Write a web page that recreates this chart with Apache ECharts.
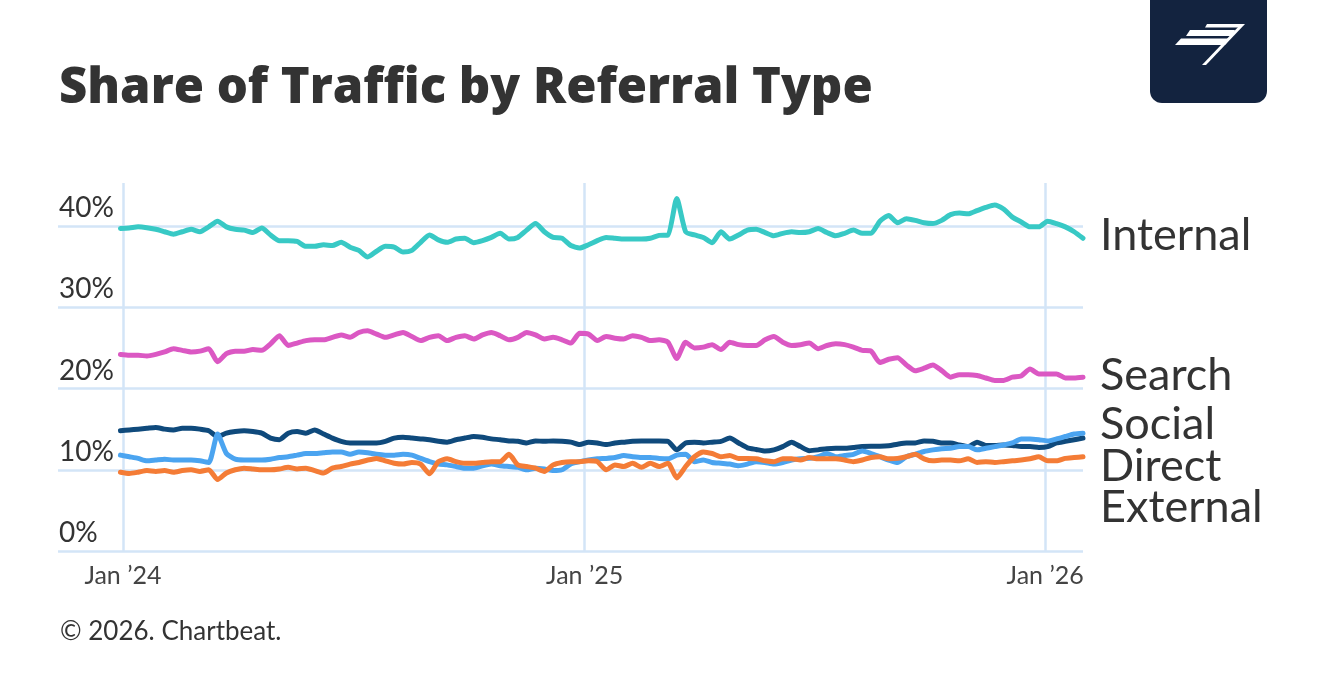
<!DOCTYPE html>
<html>
<head>
<meta charset="utf-8">
<script src="https://cdn.jsdelivr.net/npm/echarts@6/dist/echarts.min.js"></script>
<style>
html,body{margin:0;padding:0;background:#fff;}
#c{width:1318px;height:698px;}
</style>
</head>
<body>
<div id="c"></div>
<script>
// Weekly observations (days since 2024-01-01), first week start offset
const firstDay = -2;
const weekCount = 110;

const internal = [39.7,39.75,39.9,39.8,39.6,39.3,39.0,39.3,39.6,39.3,39.9,40.6,39.9,39.6,39.5,39.2,39.75,38.9,38.2,38.2,38.1,37.5,37.5,37.7,37.6,38.0,37.4,37.0,36.2,36.9,37.5,37.4,36.8,37.0,38.0,38.9,38.3,
38.0,38.4,38.5,37.95,38.2,38.6,39.1,38.4,38.6,39.5,40.3,39.3,38.6,38.5,37.6,37.3,37.7,38.2,38.6,38.5,38.4,38.4,38.4,38.5,38.85,38.9,43.4,39.3,38.9,38.6,37.95,39.3,38.4,38.9,39.5,39.6,
39.2,38.8,39.1,39.3,39.2,39.3,39.7,39.2,38.8,39.1,39.5,39.1,39.1,40.6,41.3,40.4,40.9,40.7,40.4,40.3,40.7,41.4,41.6,41.5,41.9,42.3,42.6,42.1,41.1,40.5,39.9,39.9,40.6,40.3,39.9,39.3,38.5];

const search = [24.2,24.1,24.1,24.0,24.2,24.5,24.9,24.7,24.5,24.6,24.9,23.3,24.3,24.6,24.6,24.8,24.7,25.5,26.5,25.3,25.6,25.9,26.0,26.0,26.3,26.6,26.3,26.9,27.1,26.7,26.3,26.6,26.9,26.4,25.9,26.3,26.5,
25.9,26.3,26.5,26.1,26.6,26.9,26.5,26.0,26.3,26.9,26.6,26.1,26.3,26.0,25.6,26.8,26.7,25.9,26.4,26.2,26.1,26.5,26.3,25.9,26.0,25.7,23.7,25.7,25.0,25.1,25.4,24.8,25.7,25.4,25.3,25.3,
26.0,26.4,25.7,25.3,25.4,25.6,24.9,25.3,25.5,25.4,25.1,24.7,24.6,23.2,23.6,23.8,22.9,22.2,22.5,22.9,22.2,21.4,21.7,21.7,21.6,21.3,21.0,21.0,21.4,21.55,22.4,21.8,21.8,21.8,21.3,21.3,21.4];

const direct = [14.8,14.9,15.0,15.1,15.2,15.0,14.9,15.1,15.1,15.0,14.8,14.1,14.5,14.7,14.8,14.7,14.5,13.9,13.7,14.5,14.7,14.5,14.9,14.4,13.9,13.5,13.3,13.3,13.3,13.3,13.5,13.9,14.0,13.9,13.8,13.7,13.5,
13.4,13.7,13.9,14.1,14.0,13.8,13.7,13.55,13.5,13.3,13.55,13.5,13.55,13.5,13.4,13.1,13.4,13.3,13.1,13.3,13.4,13.5,13.55,13.55,13.55,13.5,12.45,13.3,13.4,13.3,13.4,13.5,13.9,13.3,12.7,12.5,
12.3,12.45,12.85,13.4,12.85,12.35,12.45,12.6,12.65,12.65,12.75,12.85,12.9,12.9,12.95,13.15,13.3,13.3,13.55,13.5,13.3,13.3,13.05,12.85,13.4,13.0,13.0,13.05,13.0,12.85,12.85,12.75,12.85,13.3,13.5,13.7,13.9];

const social = [11.8,11.6,11.4,11.1,11.2,11.3,11.2,11.2,11.2,11.1,10.9,14.4,12.0,11.3,11.2,11.2,11.2,11.3,11.5,11.6,11.8,12.0,12.0,12.1,12.2,12.2,11.9,12.2,12.1,11.9,11.8,11.8,11.9,11.8,11.4,11.0,10.7,
10.6,10.4,10.2,10.2,10.5,10.7,10.5,10.4,10.3,10.0,10.2,10.1,9.9,10.0,10.7,11.0,11.2,11.35,11.4,11.5,11.75,11.6,11.5,11.5,11.4,11.35,11.8,11.9,11.0,11.2,10.9,10.8,10.7,10.5,10.7,11.0,
10.9,10.7,10.9,11.2,11.35,11.4,11.6,12.0,11.6,11.75,11.9,12.3,12.0,11.6,11.2,10.9,11.6,11.9,12.25,12.45,12.6,12.65,12.85,12.85,12.45,12.65,12.85,13.05,13.3,13.8,13.8,13.7,13.55,13.8,14.1,14.4,14.5];

const external = [9.7,9.55,9.7,9.9,9.8,9.9,9.7,9.9,10.0,9.8,10.0,8.8,9.6,10.0,10.2,10.1,10.0,10.0,10.1,10.3,10.1,10.2,9.9,9.6,10.2,10.4,10.7,10.9,11.2,11.4,11.1,10.8,10.7,10.9,10.7,9.5,11.0,
11.35,11.0,10.8,10.8,10.9,11.0,11.0,11.9,10.6,10.4,10.2,9.8,10.6,10.9,11.0,11.0,11.1,11.0,10.0,10.6,10.4,10.8,10.3,10.8,10.4,10.8,9.0,10.4,11.6,12.2,12.0,11.6,11.75,11.4,11.4,11.35,
11.1,11.0,11.35,11.35,11.2,11.5,11.35,11.35,11.35,11.2,11.0,11.2,11.5,11.6,11.35,11.4,11.6,11.9,11.35,11.1,11.2,11.2,11.1,11.35,10.9,11.0,10.9,11.0,11.1,11.2,11.35,11.6,11.1,11.1,11.4,11.5,11.6];

const yTicks = [0, 10, 20, 30, 40];
const xTickDays = [0, 366, 731];
const xTickLabels = ['Jan \u201924', 'Jan \u201925', 'Jan \u201926'];
const seriesNames = ['Internal', 'Search', 'Direct', 'Social', 'External'];
const seriesColors = ['#38c9c5', '#db58c3', '#0f4a7c', '#4ba4f0', '#f47c36'];
const seriesValues = [internal, search, direct, social, external];
const endLabels = [['Internal', 235], ['Search', 375], ['Social', 424], ['Direct', 466], ['External', 507]];

const days = [];
for (let i = 0; i < weekCount; i++) days.push(firstDay + 7 * i);

const gridColor = '#d3e5f7';
const FONT = 'Lato, "Open Sans", sans-serif';

const series = seriesValues.map((vals, k) => ({
  name: seriesNames[k],
  type: 'line',
  data: vals.map((v, i) => [days[i], v]),
  showSymbol: false,
  smooth: 0.2,
  z: 2,
  lineStyle: { color: seriesColors[k], width: 5, cap: 'round', join: 'round' },
  itemStyle: { color: seriesColors[k] }
}));

series[0].markLine = {
  z: 1,
  silent: true,
  symbol: ['none', 'none'],
  label: { show: false },
  lineStyle: { color: gridColor, width: 2.5, type: 'solid' },
  emphasis: { disabled: true },
  data: yTicks.map(v => ({ yAxis: v })).concat(xTickDays.map(d => ({ xAxis: d })))
};

const graphic = [
  { type: 'text', left: 59, top: 65, style: { text: 'Share of Traffic by Referral Type', font: '800 49px "Open Sans", sans-serif', fill: '#333333' } },
  { type: 'text', left: 60, top: 619, style: { text: '\u00a9 2026. Chartbeat.', font: '26px ' + FONT, fill: '#333333' } },
  { type: 'rect', shape: { x: 1150, y: -20, width: 117, height: 123, r: 12 }, style: { fill: '#13233f' } },
  { type: 'polygon', shape: { points: [[1207,24],[1243,24],[1240,27.5],[1205,27.5]] }, style: { fill: '#fff' } },
  { type: 'polygon', shape: { points: [[1190,30],[1235,30],[1232,36],[1186,36]] }, style: { fill: '#fff' } },
  { type: 'polygon', shape: { points: [[1181,38.5],[1230,38.5],[1225,45],[1175,45]] }, style: { fill: '#fff' } },
  { type: 'polygon', shape: { points: [[1241,24],[1245,24],[1206,65],[1202,65]] }, style: { fill: '#fff' } }
].concat(endLabels.map(([t, y]) => ({
  type: 'text', x: 1100, y: y,
  style: { text: t, font: '45px ' + FONT, fill: '#333333', verticalAlign: 'middle', align: 'left' }
})));

const option = {
  backgroundColor: '#ffffff',
  animation: false,
  grid: { left: 58, right: 235, top: 183, bottom: 147 },
  xAxis: {
    type: 'value',
    min: -51.5,
    max: 761,
    axisLine: { show: false },
    axisTick: { show: false },
    splitLine: { show: false },
    axisLabel: {
      customValues: xTickDays,
      formatter: v => { const k = xTickDays.indexOf(v); return k >= 0 ? xTickLabels[k] : ''; },
      fontSize: 25, color: '#444444', fontFamily: FONT, margin: 12
    }
  },
  yAxis: {
    type: 'value',
    min: 0,
    max: 45.3,
    axisLine: { show: false },
    axisTick: { show: false },
    splitLine: { show: false },
    axisLabel: {
      customValues: yTicks,
      inside: true,
      align: 'left',
      verticalAlign: 'bottom',
      margin: 1,
      padding: [0, 0, 4, 0],
      formatter: v => (yTicks.indexOf(v) >= 0 ? v + '%' : ''),
      fontSize: 28, color: '#333333', fontFamily: FONT
    }
  },
  series: series,
  graphic: graphic
};

const chart = echarts.init(document.getElementById('c'));
chart.setOption(option);
</script>
</body>
</html>
